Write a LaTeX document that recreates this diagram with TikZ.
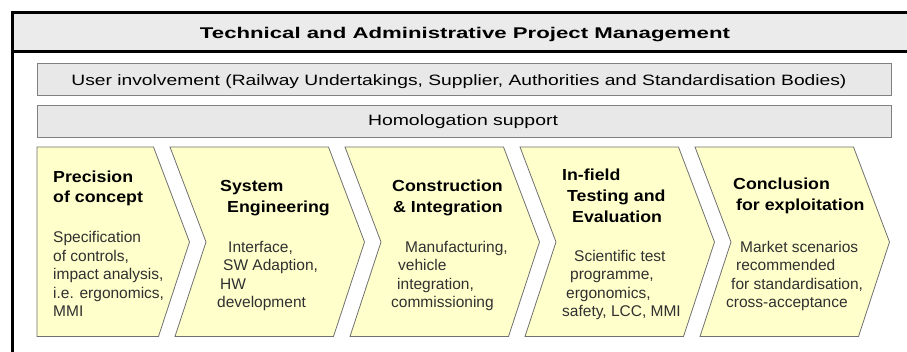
\documentclass[tikz,border=0pt]{standalone}
\usepackage{fontspec}
\setmainfont{Liberation Sans}
\usepackage{graphicx}
\definecolor{hdrfill}{HTML}{EBEBEB}
\definecolor{barfill}{HTML}{E8E8E8}
\definecolor{barline}{HTML}{808080}
\definecolor{chevfill}{HTML}{FFFFCC}
\definecolor{chevline}{HTML}{707070}
\definecolor{bodytext}{HTML}{303030}
\newcommand{\fitw}[2]{\resizebox{#1}{\height}{#2}}
\newcommand{\ttl}[1]{\scalebox{1.11}[1]{#1}}
\begin{document}
\begin{tikzpicture}[x=1pt,y=-1pt,
  bar/.style={draw=barline, line width=0.9pt, fill=barfill},
  chev/.style={draw=chevline, line width=0.8pt, fill=chevfill, line join=miter},
  hdrtext/.style={font=\fontsize{15.5}{18}\selectfont\bfseries, inner sep=0pt, anchor=base},
  bartext/.style={font=\fontsize{15}{18}\selectfont, inner sep=0pt, anchor=base},
  title/.style={font=\fontsize{16}{20}\selectfont\bfseries, inner sep=0pt, anchor=base west},
  body/.style={font=\fontsize{15.5}{18}\selectfont, text=bodytext, inner sep=0pt, anchor=base west}]
\useasboundingbox (0,0) rectangle (907,352);
\fill[white] (0,0) rectangle (907,352);
% header band and outer frame
\fill[hdrfill] (12,12.5) rectangle (907,51.3);
\draw[line width=2.5pt] (12,51.3) -- (907,51.3);
\draw[line width=3pt] (907,12.5) -- (12,12.5) -- (12,354);
\node[hdrtext] (hdr) at (465,38.3) {\fitw{530pt}{Technical and Administrative Project Management}};
% bars
\draw[bar] (37,63.5) rectangle (891,95);
\node[bartext] (user) at (459,86) {\fitw{775pt}{User involvement (Railway Undertakings, Supplier, Authorities and Standardisation Bodies)}};
\draw[bar] (37,105.5) rectangle (891,137);
\node[bartext] (homol) at (463,126) {\fitw{190pt}{Homologation support}};
% chevrons
\draw[chev] (37,147) -- (153.5,147) -- (189.5,242) -- (158.5,336.5) -- (37,336.5) -- cycle;
\foreach \i in {1,2,3,4}{
  \pgfmathsetmacro{\l}{170+175*(\i-1)}
  \pgfmathsetmacro{\c}{153.5+175*\i}
  \draw[chev] (\l,147) -- (\c,147) -- (\c+36,242) -- (\c+5,336.5) -- (\l+5,336.5) -- (\l+36,242) -- cycle;
}
% chevron 1
\node[title] (t1a) at (53,183) {\ttl{Precision}};
\node[title] (t1b) at (53,203) {\ttl{of concept}};
\node[body] (b1a) at (53,243) {Specification};
\node[body] (b1b) at (53,261.5) {of controls,};
\node[body] (b1c) at (53,280) {impact analysis,};
\node[body] (b1d) at (53,298.5) {i.e. ergonomics,};
\node[body] (b1e) at (53,317) {MMI};
% chevron 2
\node[title] (t2a) at (220,192) {\ttl{System}};
\node[title] (t2b) at (227,213) {\ttl{Engineering}};
\node[body] (b2a) at (228,253) {Interface,};
\node[body] (b2b) at (223,271) {SW Adaption,};
\node[body] (b2c) at (220,289.5) {HW};
\node[body] (b2d) at (217,307.5) {development};
% chevron 3
\node[title] (t3a) at (392,192) {\ttl{Construction}};
\node[title] (t3b) at (393,213) {\ttl{\& Integration}};
\node[body] (b3a) at (405,253) {Manufacturing,};
\node[body] (b3b) at (398,271) {vehicle};
\node[body] (b3c) at (397,289.5) {integration,};
\node[body] (b3d) at (391,307.5) {commissioning};
% chevron 4
\node[title] (t4a) at (562,181) {\ttl{In-field}};
\node[title] (t4b) at (567,202) {\ttl{Testing and}};
\node[title] (t4c) at (572,223) {\ttl{Evaluation}};
\node[body] (b4a) at (574,262) {Scientific test};
\node[body] (b4b) at (570,280) {programme,};
\node[body] (b4c) at (566,298.5) {ergonomics,};
\node[body] (b4d) at (562,317) {safety, LCC, MMI};
% chevron 5
\node[title] (t5a) at (733,190) {\ttl{Conclusion}};
\node[title] (t5b) at (736,211) {\ttl{for exploitation}};
\node[body] (b5a) at (740,253) {Market scenarios};
\node[body] (b5b) at (736,271) {recommended};
\node[body] (b5c) at (731,289.5) {for standardisation,};
\node[body] (b5d) at (726,307.5) {cross-acceptance};
\end{tikzpicture}
\end{document}
